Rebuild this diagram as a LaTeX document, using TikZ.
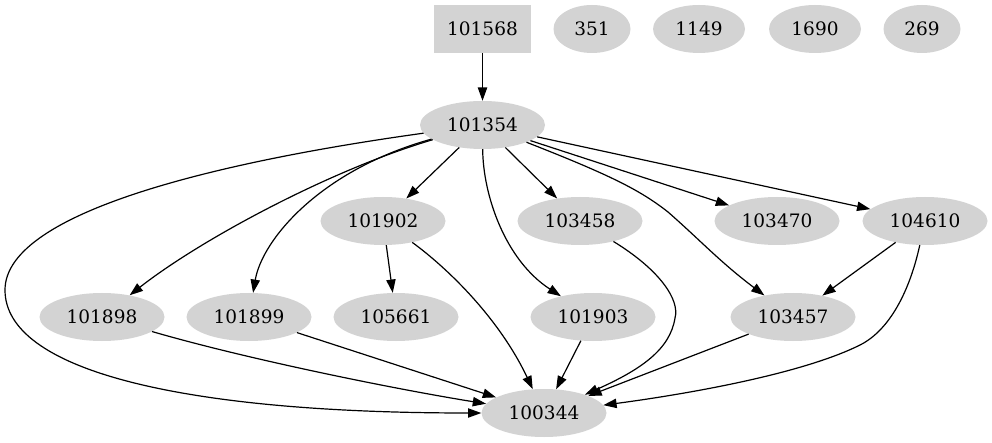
\documentclass[tikz,border=0pt]{standalone}
\usepackage{fontspec}
\setmainfont{DejaVu Serif}
\usetikzlibrary{arrows.meta,shapes.geometric}
\definecolor{gvgray}{HTML}{D3D3D3}
\tikzset{
  gnode/.style={ellipse, fill=gvgray, draw=none, inner sep=0pt, minimum height=48pt, font=\fontsize{18.5}{22}\selectfont},
  w6/.style={gnode, minimum width=125pt},
  w4/.style={gnode, minimum width=92pt},
  w3/.style={gnode, minimum width=77pt},
  gbox/.style={rectangle, fill=gvgray, draw=none, inner sep=0pt, minimum width=97pt, minimum height=48pt, font=\fontsize{18.5}{22}\selectfont},
  edge/.style={draw=black, line width=1.2pt, -{Triangle[length=13.3pt,width=9.3pt]}}
}
\begin{document}
\begin{tikzpicture}[x=1pt,y=-1pt]
\useasboundingbox (0,0) rectangle (992,443);
% rank 0
\node[gbox] (n101568) at (482.5,29) {101568};
\node[w3] (n351) at (592,29) {351};
\node[w4] (n1149) at (699,29) {1149};
\node[w4] (n1690) at (815,29) {1690};
\node[w3] (n269) at (922,29) {269};
% rank 1
\node[w6] (n101354) at (482.5,125) {101354};
% rank 2
\node[w6] (n101902) at (383,221) {101902};
\node[w6] (n103458) at (580,221) {103458};
\node[w6] (n103470) at (777,221) {103470};
\node[w6] (n104610) at (925,221) {104610};
% rank 3
\node[w6] (n101898) at (102,317) {101898};
\node[w6] (n101899) at (249,317) {101899};
\node[w6] (n105661) at (396,317) {105661};
\node[w6] (n101903) at (593,317) {101903};
\node[w6] (n103457) at (793,317) {103457};
% rank 4
\node[w6] (n100344) at (544,413) {100344};
% waypoints
\coordinate (c1) at (5,290);
\coordinate (c2) at (668,212);
\coordinate (c3) at (675,318);
\coordinate (c4) at (860,345);
% edges
\draw[edge] (n101568) -- (n101354);
\draw[edge] (n101354) .. controls (230,160) and (5,210) .. (c1) .. controls (5,370) and (180,413) .. (n100344);
\draw[edge] (n101354) .. controls (330,170) and (200,240) .. (n101898);
\draw[edge] (n101354) .. controls (320,170) and (262,240) .. (n101899);
\draw[edge] (n101354) -- (n101902);
\draw[edge] (n101354) .. controls (483,195) and (505,260) .. (n101903);
\draw[edge] (n101354) -- (n103458);
\draw[edge] (n101354) .. controls (610,175) and (640,190) .. (c2) .. controls (700,240) and (720,262) .. (n103457);
\draw[edge] (n101354) -- (n103470);
\draw[edge] (n101354) -- (n104610);
\draw[edge] (n101902) -- (n105661);
\draw[edge] (n101902) .. controls (450,270) and (500,320) .. (n100344);
\draw[edge] (n103458) .. controls (660,270) and (680,300) .. (c3) .. controls (670,350) and (640,370) .. (n100344);
\draw[edge] (n104610) -- (n103457);
\draw[edge] (n104610) .. controls (910,290) and (890,330) .. (c4) .. controls (800,375) and (680,395) .. (n100344);
\draw[edge] (n101898) .. controls (250,360) and (400,390) .. (n100344);
\draw[edge] (n101899) -- (n100344);
\draw[edge] (n101903) -- (n100344);
\draw[edge] (n103457) -- (n100344);
\end{tikzpicture}
\end{document}
